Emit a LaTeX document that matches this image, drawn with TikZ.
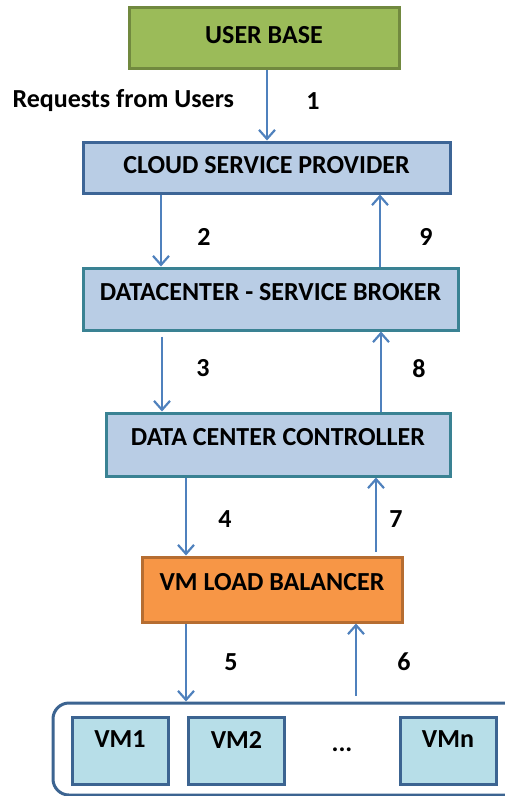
\documentclass[tikz,border=0pt]{standalone}
\usepackage{fontspec}
\setmainfont{Carlito}
\usetikzlibrary{arrows.meta}

\definecolor{ubfill}{HTML}{9BBB59}
\definecolor{ubline}{HTML}{71893F}
\definecolor{boxfill}{HTML}{B9CDE5}
\definecolor{cspline}{HTML}{3D6596}
\definecolor{dcline}{HTML}{3A8293}
\definecolor{lbfill}{HTML}{F79646}
\definecolor{lbline}{HTML}{B66D31}
\definecolor{vmfill}{HTML}{B7DEE8}
\definecolor{vmline}{HTML}{3C6491}
\definecolor{flowcol}{HTML}{4F81BD}

\tikzset{
  stage/.style={draw, line width=3pt, font=\fontsize{26}{30}\selectfont\bfseries,
    inner sep=0pt, text depth=6pt},
  flow/.style={draw=flowcol, line width=2.2pt, -{Straight Barb[length=9pt,width=16pt,line width=2.2pt]}},
  num/.style={font=\fontsize{26}{30}\selectfont\bfseries}
}

\begin{document}
\begin{tikzpicture}[x=1pt,y=-1pt]
        \useasboundingbox (0,0) rectangle (504,796);

        % main stages
        \node[stage, fill=ubfill, draw=ubline, minimum width=270pt, minimum height=61pt] (ub)  at (264,37.5)  {USER BASE};
        \node[stage, fill=boxfill, draw=cspline, minimum width=367pt, minimum height=51pt, text depth=6pt] (csp) at (266.5,167.5) {CLOUD SERVICE PROVIDER};
        \node[stage, fill=boxfill, draw=dcline, minimum width=375pt, minimum height=62pt, text depth=14pt] (dsb) at (270.5,299) {DATACENTER - SERVICE BROKER};
        \node[stage, fill=boxfill, draw=dcline, minimum width=344pt, minimum height=63pt, text depth=16pt] (dcc) at (278,444.5) {DATA CENTER CONTROLLER};
        \node[stage, fill=lbfill, draw=lbline, minimum width=260pt, minimum height=65pt, text depth=16pt] (vlb) at (272,589.5) {VM LOAD BALANCER};

        % virtual machines
        \node[draw=vmline, line width=3pt, rounded corners=16pt, fill=white, minimum width=470pt, minimum height=92pt] (pool) at (288,749) {};
        \begin{scope}[every node/.style={stage, fill=vmfill, draw=vmline, minimum width=96pt, minimum height=67pt, text depth=22pt}]
          \node (vm1) at (120,750.5) {VM1};
          \node (vm2) at (236.5,750.5) {VM2};
          \node (vmn) at (448,750.5) {VMn};
        \end{scope}
        \node[num] (dots) at (342,750) {...};

        % requests and replies
        \draw[flow] (ub.south -| 267,0) -- (csp.north -| 267,0);
        \draw[flow] (csp.south -| 161,0) -- (dsb.north -| 161,0);
        \draw[flow] (dsb.north -| 380,0) -- (csp.south -| 380,0);
        \draw[flow] ([yshift=-5pt]dsb.south -| 162,0) -- (dcc.north -| 162,0);
        \draw[flow] (dcc.north -| 381,0) -- (dsb.south -| 381,0);
        \draw[flow] (dcc.south -| 186,0) -- (vlb.north -| 186,0);
        \draw[flow] ([yshift=4pt]vlb.north -| 376,0) -- (dcc.south -| 376,0);
        \draw[flow] (vlb.south -| 186,0) -- (pool.north -| 186,0);
        \draw[flow] ([yshift=6pt]pool.north -| 356,0) -- (vlb.south -| 356,0);

        \node[num, anchor=west] (req) at (9,101) {Requests from Users};
        \node[num] (n1) at (313,101) {1};
        \node[num] (n2) at (204,237) {2};
        \node[num] (n9) at (426,237) {9};
        \node[num] (n3) at (203,368) {3};
        \node[num] (n8) at (419,369) {8};
        \node[num] (n4) at (225,519) {4};
        \node[num] (n7) at (396,519) {7};
        \node[num] (n5) at (231,662) {5};
        \node[num] (n6) at (404,662) {6};

\end{tikzpicture}
\end{document}
